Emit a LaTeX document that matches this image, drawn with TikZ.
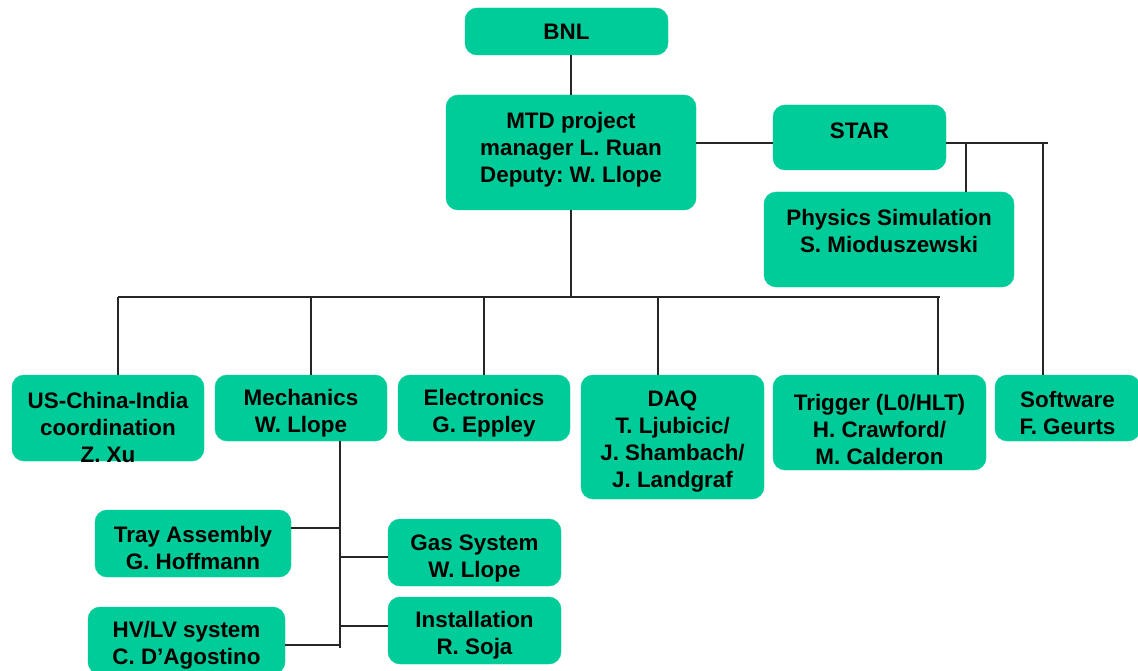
\documentclass[tikz,border=0pt]{standalone}
\usepackage{fontspec}
\setmainfont{Liberation Sans}
\frenchspacing
\definecolor{boxgreen}{HTML}{00CC99}
\newcommand\orgbox[7]{%
  \node[box, minimum width={#4-#2}, minimum height={#5-#3}] (#1) at ({(#2+#4)/2},{(#3+#5)/2}) {};
  \node[txt] (#1-t) at ({(#2+#4)/2},{#6+2}) {#7};
}
\begin{document}
\begin{tikzpicture}[x=1pt,y=-1pt,
  box/.style={draw=boxgreen, fill=boxgreen, rounded corners=12pt, inner sep=0pt},
  txt/.style={align=center, font=\bfseries\fontsize{22.4}{27}\selectfont, inner sep=0pt},
  conn/.style={draw=black!85, line width=1.4pt}]
\useasboundingbox (0,0) rectangle (1138,671);

\orgbox{bnl}{465}{8}{668}{55}{30}{BNL}
\orgbox{mtd}{446}{95}{696}{210}{148}{MTD project\\manager L. Ruan\\Deputy: W. Llope}
\orgbox{star}{773}{105}{946}{170}{129}{STAR}
\orgbox{phys}{764}{192}{1014}{287}{229}{Physics Simulation\\S. Mioduszewski}
\orgbox{usci}{12}{375}{204}{461}{425}{US-China-India\\coordination\\Z. Xu}
\orgbox{mech}{215}{375}{387}{441}{411}{Mechanics\\W. Llope}
\orgbox{elec}{398}{375}{570}{441}{411}{Electronics\\G. Eppley}
\orgbox{daq}{581}{375}{764}{499}{440}{DAQ\\T. Ljubicic/\\J. Shambach/\\J. Landgraf}
\orgbox{trig}{773}{375}{986}{470}{427}{Trigger (L0/HLT)\\H. Crawford/\\M. Calderon}
\orgbox{soft}{995}{375}{1140}{441}{411}{Software\\F. Geurts}
\orgbox{tray}{95}{510}{291}{577}{546}{Tray Assembly\\G. Hoffmann}
\orgbox{gas}{388}{519}{561}{586}{557}{Gas System\\W. Llope}
\orgbox{inst}{388}{597}{561}{664}{633}{Installation\\R. Soja}
\orgbox{hvlv}{88}{607}{285}{674}{643}{HV/LV system\\C. D'Agostino}

% BNL - MTD
\draw[conn] (bnl.south -| mtd.north) -- (mtd.north);
% MTD - STAR branch
\coordinate (sy) at (0,143);
\coordinate (sR) at (1048,143);
\coordinate (sphys) at (966,143);
\coordinate (ssoft) at (1043,143);
\draw[conn] (mtd.east |- sy) -- (star.west |- sy);
\draw[conn] (star.east |- sR) -- (sR);
\draw[conn] (sphys) -- (sphys |- phys.north);
\draw[conn] (ssoft) -- (ssoft |- soft.north);
% bus
\coordinate (busL) at (118,297);
\coordinate (busR) at (940,297);
\coordinate (bmech) at (311,297);
\coordinate (belec) at (484,297);
\coordinate (bdaq) at (658,297);
\coordinate (btrig) at (938,297);
\draw[conn] (mtd.south) -- (mtd.south |- busL);
\draw[conn] (busL) -- (busR);
\draw[conn] (busL) -- (busL |- usci.north);
\draw[conn] (bmech) -- (bmech |- mech.north);
\draw[conn] (belec) -- (belec |- elec.north);
\draw[conn] (bdaq) -- (bdaq |- daq.north);
\draw[conn] (btrig) -- (btrig |- trig.north);
% mechanics sub-tree
\coordinate (mvend) at (340,648);
\coordinate (mt) at (340,528);
\coordinate (mg) at (340,557);
\coordinate (mi) at (340,626);
\coordinate (mh) at (340,645);
\draw[conn] (mech.south -| mvend) -- (mvend);
\draw[conn] (tray.east |- mt) -- (mt);
\draw[conn] (mg) -- (mg -| gas.west);
\draw[conn] (mi) -- (mi -| inst.west);
\draw[conn] (hvlv.east |- mh) -- (mh);
\end{tikzpicture}
\end{document}
